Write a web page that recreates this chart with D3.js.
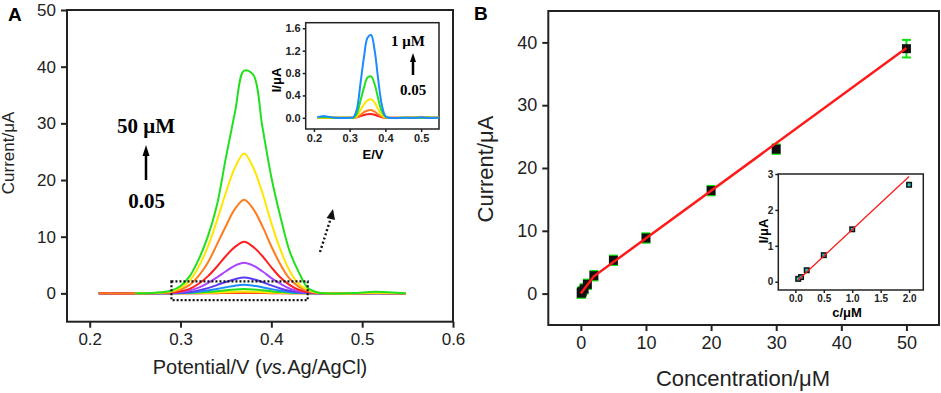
<!DOCTYPE html>
<html>
<head>
<meta charset="utf-8">
<script src="https://cdn.jsdelivr.net/npm/d3@7"></script>
<style>
  body { margin: 0; background: #fff; }
  svg { display: block; font-family: "Liberation Sans", Arial, sans-serif; }
  .tick line { stroke: #222; stroke-width: 1.5; }
  .tick text { fill: #222; }
</style>
</head>
<body>
<div class="chart"></div>
<script>
const WIDTH = 941;
const HEIGHT = 393;

// ---- panel A : DPV curves (potential in V, current in uA) ----
var potentials = [0.21, 0.25, 0.28, 0.29, 0.30, 0.31, 0.32, 0.33, 0.34, 0.35, 0.36, 0.37,
  0.38, 0.39, 0.40, 0.41, 0.42, 0.43, 0.44, 0.45, 0.46, 0.49, 0.515, 0.548];

var curveRed1    = [0,0,0,0,0,0.01,0.02,0.03,0.04,0.06,0.07,0.08,0.07,0.06,0.04,0.03,0.01,0.01,0,0,0,0,0,0];
var curveOrange1 = [0,0,0,0,0.01,0.01,0.03,0.05,0.08,0.11,0.14,0.15,0.14,0.11,0.08,0.05,0.02,0.01,0,0,0,0,0,0];
var curveYellow1 = [0,0,0,0,0.01,0.03,0.06,0.11,0.17,0.23,0.29,0.32,0.29,0.23,0.16,0.1,0.05,0.02,0.01,0,0,0,0,0];
var curveGreen1  = [0,0,0,0.01,0.03,0.07,0.14,0.25,0.39,0.54,0.68,0.75,0.68,0.54,0.38,0.23,0.12,0.05,0.02,0,0,0,0,0];
var curveBlue    = [0,0,0.01,0.02,0.06,0.14,0.29,0.5,0.78,1.08,1.35,1.5,1.35,1.08,0.75,0.47,0.24,0.1,0.04,0.01,0,0,0.01,0];
var curveIndigo  = [0,0,0.02,0.04,0.11,0.25,0.53,0.92,1.46,2.0,2.5,2.8,2.5,2.0,1.4,0.87,0.45,0.2,0.07,0.02,0,0,0.02,0];
var curvePurple  = [0,0,0.03,0.08,0.22,0.49,1.0,1.8,2.8,3.9,4.9,5.4,4.9,3.9,2.7,1.7,0.86,0.38,0.14,0.03,0,0,0.03,0];
var curveRed2    = [0,0,0.05,0.14,0.36,0.8,1.7,3.0,4.7,6.6,8.2,9.1,8.2,6.6,4.6,2.8,1.5,0.64,0.23,0.05,0,0,0.05,0];
var curveOrange2 = [0,0,0.1,0.25,0.66,1.5,3.1,5.4,8.6,11.9,14.9,16.5,14.9,11.9,8.3,5.1,2.6,1.2,0.4,0.1,0,0,0.08,0];
var curveYellow2 = [null,0,0.15,0.37,1.0,2.2,4.7,8.2,12.8,17.8,22.2,24.7,22.2,17.8,12.4,7.7,4.0,1.7,0.6,0.15,0,0,0.1,0];
var curveGreen2  = [null,0,0.2,0.5,1.3,3.0,6.0,10.0,15.5,24.0,32.0,39.3,38.6,29.5,20.5,13.5,7.5,3.8,1.0,0.2,0,0.05,0.3,0];

var curvesA = [curveRed1, curveOrange1, curveYellow1, curveGreen1, curveBlue, curveIndigo,
  curvePurple, curveRed2, curveOrange2, curveYellow2, curveGreen2];
var colorsA = ['#ff1f1f', '#ff7b1c', '#ffe600', '#22e01e', '#1a8cff', '#5b3cf2',
  '#aa45ff', '#ff1f1f', '#ff7b1c', '#ffe600', '#22e01e'];

// inset of panel A (low concentrations, 0.05 - 1 uM)
var insetPotentials = [0.21, 0.225, 0.24, 0.26, 0.30, 0.31, 0.32, 0.33, 0.34, 0.35, 0.36,
  0.37, 0.38, 0.39, 0.40, 0.41, 0.45, 0.49, 0.50, 0.51, 0.55];
var insetRed    = [0,0,0,0,0,0,0.01,0.03,0.05,0.065,0.07,0.055,0.03,0.01,0,0,0,0,0,0,0];
var insetOrange = [0,0.01,0,0,0,0,0.01,0.05,0.1,0.13,0.14,0.11,0.06,0.02,0,0,0,0.01,0.015,0.01,0];
var insetYellow = [0,0,0,0,0,0,0.03,0.13,0.24,0.31,0.33,0.27,0.15,0.05,0.01,0,0,0,0,0,0];
var insetGreen  = [0.01,0.01,0.01,0,0,0,0.07,0.3,0.54,0.72,0.74,0.6,0.34,0.11,0.02,0,0,0,0,0,0];
var insetBlue   = [0.01,0.03,0.02,0,0,0.01,0.15,0.6,1.08,1.43,1.48,1.2,0.68,0.23,0.03,0,0,0,0.01,0,0];
var insetCurves = [insetRed, insetOrange, insetYellow, insetGreen, insetBlue];
var insetColors = ['#ff1f1f', '#ff7b1c', '#ffe600', '#22e01e', '#1a8cff'];

// ---- panel B : calibration ----
var concentrations = [0.05, 0.1, 0.2, 0.5, 1, 2, 5, 10, 20, 30, 50];
var peakCurrents   = [0.08, 0.15, 0.32, 0.75, 1.48, 2.85, 5.3, 8.85, 16.4, 23.0, 39.0];
var currentErrors  = [0.75, 0.75, 0.75, 0.75, 0.75, 0.75, 0.75, 0.75, 0.75, 0.75, 1.4];
var fitConc    = [0, 2, 50];
var fitCurrent = [0, 2.75, 39.1];

var lowConc    = [0.05, 0.1, 0.2, 0.5, 1.0, 2.0];
var lowCurrent = [0.08, 0.13, 0.32, 0.74, 1.46, 2.7];
var lowFitConc    = [0.05, 2.0];
var lowFitCurrent = [0.05, 2.93];

var translate = function (x, y) {
  return 'translate(' + x + ',' + y + ')';
};

var svg = d3.select('.chart').append('svg')
  .attr('width', WIDTH)
  .attr('height', HEIGHT);

// draws the bottom/left axes of a framed plot and the frame itself
var drawFrame = function (xScale, yScale, opts) {
  var x0 = xScale.range()[0], x1 = xScale.range()[1];
  var y0 = yScale.range()[0], y1 = yScale.range()[1];

  var xAxis = d3.axisBottom(xScale).tickValues(opts.xTicks)
    .tickSizeOuter(0).tickSize(opts.tick).tickPadding(opts.pad)
    .tickFormat(opts.xFormat);
  var yAxis = d3.axisLeft(yScale).tickValues(opts.yTicks)
    .tickSizeOuter(0).tickSize(opts.tick).tickPadding(opts.pad)
    .tickFormat(opts.yFormat);

  var gx = svg.append('g').attr('transform', translate(0, y0)).call(xAxis);
  var gy = svg.append('g').attr('transform', translate(x0, 0)).call(yAxis);
  [gx, gy].forEach(function (g) {
    g.select('.domain').remove();
    g.selectAll('text')
      .style('font-size', opts.font + 'px')
      .style('font-weight', opts.bold ? 'bold' : 'normal')
      .style('font-family', '"Liberation Sans", Arial, sans-serif');
    g.selectAll('line').style('stroke-width', opts.frameWidth);
  });

  svg.append('rect')
    .attr('x', x0).attr('y', y1)
    .attr('width', x1 - x0).attr('height', y0 - y1)
    .attr('fill', 'none')
    .attr('stroke', '#222')
    .attr('stroke-width', opts.frameWidth);
};

var arrowUp = function (x, yTail, yHead, w, headLen) {
  svg.append('line')
    .attr('x1', x).attr('y1', yTail)
    .attr('x2', x).attr('y2', yHead + headLen - 1)
    .attr('stroke', '#000').attr('stroke-width', 2.5);
  svg.append('path')
    .attr('d', 'M' + x + ',' + yHead + 'L' + (x - w / 2) + ',' + (yHead + headLen) +
      'L' + (x + w / 2) + ',' + (yHead + headLen) + 'Z')
    .attr('fill', '#000');
};

// ================= panel A =================
var xA = d3.scaleLinear().domain([0.175, 0.6]).range([67, 453]);
var yA = d3.scaleLinear().domain([-5, 50]).range([321.7, 10]);

drawFrame(xA, yA, {
  xTicks: [0.2, 0.3, 0.4, 0.5, 0.6], yTicks: [0, 10, 20, 30, 40, 50],
  xFormat: d3.format('.1f'), yFormat: d3.format('d'),
  tick: 6, pad: 5, font: 17, bold: false, frameWidth: 2
});

var lineA = d3.line()
  .defined(function (d) { return d[1] !== null; })
  .x(function (d) { return xA(d[0]); })
  .y(function (d) { return yA(d[1]); })
  .curve(d3.curveCatmullRom);

var gA = svg.append('g').classed('curvesA', true);
curvesA.forEach(function (values, i) {
  gA.append('path')
    .attr('d', lineA(potentials.map(function (p, j) { return [p, values[j]]; })))
    .attr('fill', 'none')
    .attr('stroke', colorsA[i])
    .attr('stroke-width', 2);
});

// dotted box around the low-concentration curves
svg.append('rect')
  .attr('x', xA(0.29)).attr('y', yA(2.1))
  .attr('width', xA(0.44) - xA(0.29))
  .attr('height', yA(-1.2) - yA(2.1))
  .attr('fill', 'none')
  .attr('stroke', '#111').attr('stroke-width', 2.2)
  .attr('stroke-dasharray', '2,2');

// dotted pointer towards the inset
svg.append('line')
  .attr('x1', 320).attr('y1', 252).attr('x2', 331.5).attr('y2', 216)
  .attr('stroke', '#111').attr('stroke-width', 2.4)
  .attr('stroke-dasharray', '2,2.4');
svg.append('path')
  .attr('d', 'M333,209 L326.5,218 L335,220 Z')
  .attr('fill', '#111');

// concentration annotation
svg.append('text').attr('x', 146).attr('y', 133).attr('text-anchor', 'middle')
  .style('font-family', '"Liberation Serif", "Times New Roman", serif')
  .style('font-weight', 'bold').style('font-size', '21px').text('50 μM');
arrowUp(146, 180, 145, 7, 11);
svg.append('text').attr('x', 146.5).attr('y', 208).attr('text-anchor', 'middle')
  .style('font-family', '"Liberation Serif", "Times New Roman", serif')
  .style('font-weight', 'bold').style('font-size', '21px').text('0.05');

// axis titles
svg.append('text')
  .attr('transform', translate(14, 153) + ' rotate(-90)')
  .attr('text-anchor', 'middle')
  .style('font-size', '17px').attr('fill', '#222')
  .text('Current/μA');
var xtA = svg.append('text').attr('x', 260).attr('y', 374)
  .attr('text-anchor', 'middle').style('font-size', '20px').attr('fill', '#222');
xtA.append('tspan').text('Potential/V (');
xtA.append('tspan').style('font-style', 'italic').text('vs.');
xtA.append('tspan').text('Ag/AgCl)');

svg.append('text').attr('x', 8).attr('y', 21)
  .style('font-size', '19px').style('font-weight', 'bold').text('A');

// ----- inset A -----
var xAi = d3.scaleLinear().domain([0.177, 0.55]).range([305.7, 439]);
var yAi = d3.scaleLinear().domain([-0.2, 1.7]).range([129, 22.7]);

svg.append('rect').attr('x', 305.7).attr('y', 22.7)
  .attr('width', 439 - 305.7).attr('height', 129 - 22.7).attr('fill', '#fff');

drawFrame(xAi, yAi, {
  xTicks: [0.2, 0.3, 0.4, 0.5], yTicks: [0, 0.4, 0.8, 1.2, 1.6],
  xFormat: d3.format('.1f'), yFormat: d3.format('.1f'),
  tick: 3, pad: 2, font: 11, bold: true, frameWidth: 1.5
});

var lineAi = d3.line()
  .x(function (d) { return xAi(d[0]); })
  .y(function (d) { return yAi(d[1]); })
  .curve(d3.curveCatmullRom);

insetCurves.forEach(function (values, i) {
  svg.append('path')
    .attr('d', lineAi(insetPotentials.map(function (p, j) { return [p, values[j]]; })))
    .attr('fill', 'none')
    .attr('stroke', insetColors[i])
    .attr('stroke-width', 2);
});

svg.append('text').attr('x', 408).attr('y', 46).attr('text-anchor', 'middle')
  .style('font-family', '"Liberation Serif", "Times New Roman", serif')
  .style('font-weight', 'bold').style('font-size', '15px').text('1 μM');
arrowUp(413, 75, 53, 6, 9);
svg.append('text').attr('x', 413).attr('y', 95).attr('text-anchor', 'middle')
  .style('font-family', '"Liberation Serif", "Times New Roman", serif')
  .style('font-weight', 'bold').style('font-size', '15px').text('0.05');

svg.append('text').attr('x', 373).attr('y', 159).attr('text-anchor', 'middle')
  .style('font-size', '13px').style('font-weight', 'bold').text('E/V');
svg.append('text')
  .attr('transform', translate(281, 80) + ' rotate(-90)')
  .attr('text-anchor', 'middle')
  .style('font-size', '13px').style('font-weight', 'bold').text('I/μA');

// ================= panel B =================
var xB = d3.scaleLinear().domain([-5, 55]).range([548.3, 939]);
var yB = d3.scaleLinear().domain([-5, 45]).range([325, 11]);

drawFrame(xB, yB, {
  xTicks: [0, 10, 20, 30, 40, 50], yTicks: [0, 10, 20, 30, 40],
  xFormat: d3.format('d'), yFormat: d3.format('d'),
  tick: 6, pad: 5, font: 18, bold: false, frameWidth: 2
});

var fitLine = d3.line()
  .x(function (d) { return xB(d[0]); })
  .y(function (d) { return yB(d[1]); });

// error bars sit behind the square markers, only their ends show
var errG = svg.append('g').attr('stroke', '#11e011').attr('stroke-width', 2);
concentrations.forEach(function (c, i) {
  var x = xB(c), top = yB(peakCurrents[i] + currentErrors[i]), bot = yB(peakCurrents[i] - currentErrors[i]);
  errG.append('line').attr('x1', x).attr('x2', x).attr('y1', top).attr('y2', bot);
  errG.append('line').attr('x1', x - 4.5).attr('x2', x + 4.5).attr('y1', top).attr('y2', top);
  errG.append('line').attr('x1', x - 4.5).attr('x2', x + 4.5).attr('y1', bot).attr('y2', bot);
});

var SQ = 9;
var gB = svg.append('g').classed('pointsB', true);
gB.selectAll('rect').data(concentrations)
  .enter().append('rect')
  .attr('x', function (d) { return xB(d) - SQ / 2; })
  .attr('y', function (d, i) { return yB(peakCurrents[i]) - SQ / 2; })
  .attr('width', SQ).attr('height', SQ)
  .attr('fill', '#111');

svg.append('path')
  .attr('d', fitLine(fitConc.map(function (c, i) { return [c, fitCurrent[i]]; })))
  .attr('fill', 'none').attr('stroke', '#ff1a1a').attr('stroke-width', 2.5);

svg.append('text')
  .attr('transform', translate(493, 169) + ' rotate(-90)')
  .attr('text-anchor', 'middle')
  .style('font-size', '22px').attr('fill', '#222')
  .text('Current/μA');
svg.append('text').attr('x', 743).attr('y', 386)
  .attr('text-anchor', 'middle').style('font-size', '22px').attr('fill', '#222')
  .text('Concentration/μM');

svg.append('text').attr('x', 474).attr('y', 20)
  .style('font-size', '19px').style('font-weight', 'bold').text('B');

// ----- inset B -----
var xBi = d3.scaleLinear().domain([-0.3, 2.25]).range([778.3, 923.3]);
var yBi = d3.scaleLinear().domain([-0.23, 3]).range([290, 174]);

svg.append('rect').attr('x', 778.3).attr('y', 174)
  .attr('width', 923.3 - 778.3).attr('height', 290 - 174).attr('fill', '#fff');

drawFrame(xBi, yBi, {
  xTicks: [0, 0.5, 1, 1.5, 2], yTicks: [0, 1, 2, 3],
  xFormat: d3.format('.1f'), yFormat: d3.format('d'),
  tick: 3, pad: 2, font: 10, bold: true, frameWidth: 1.5
});

var fitLineI = d3.line()
  .x(function (d) { return xBi(d[0]); })
  .y(function (d) { return yBi(d[1]); });

var gBi = svg.append('g');
gBi.selectAll('rect.outer').data(lowConc)
  .enter().append('rect').classed('outer', true)
  .attr('x', function (d) { return xBi(d) - 3; })
  .attr('y', function (d, i) { return yBi(lowCurrent[i]) - 3; })
  .attr('width', 6).attr('height', 6).attr('fill', '#111');
gBi.selectAll('rect.inner').data(lowConc)
  .enter().append('rect').classed('inner', true)
  .attr('x', function (d) { return xBi(d) - 1.5; })
  .attr('y', function (d, i) { return yBi(lowCurrent[i]) - 1.5; })
  .attr('width', 3).attr('height', 3).attr('fill', '#22c4c4');

svg.append('path')
  .attr('d', fitLineI(lowFitConc.map(function (c, i) { return [c, lowFitCurrent[i]]; })))
  .attr('fill', 'none').attr('stroke', '#ff1a1a').attr('stroke-width', 1.3);

svg.append('text').attr('x', 847).attr('y', 317).attr('text-anchor', 'middle')
  .style('font-size', '13px').style('font-weight', 'bold').text('c/μM');
svg.append('text')
  .attr('transform', translate(768, 231) + ' rotate(-90)')
  .attr('text-anchor', 'middle')
  .style('font-size', '13px').style('font-weight', 'bold').text('I/μA');
</script>
</body>
</html>
